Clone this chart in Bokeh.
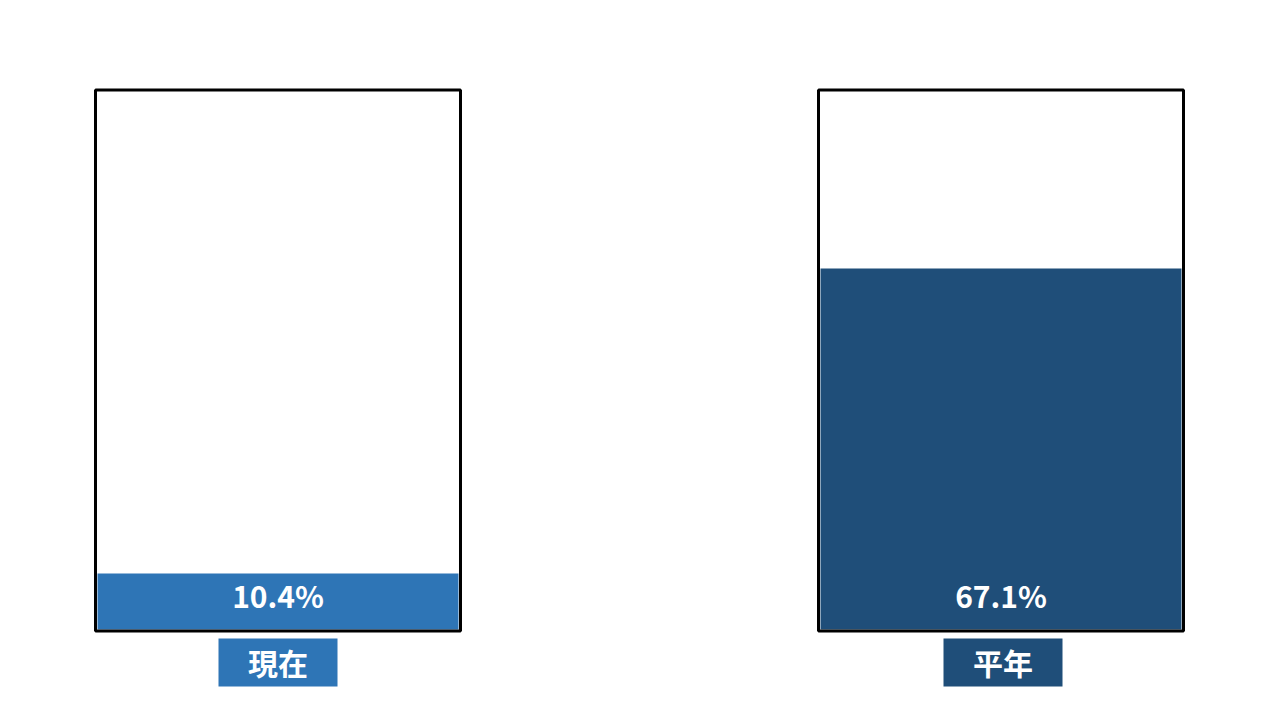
from bokeh.plotting import figure
from bokeh.models import Range1d, ColumnDataSource
from bokeh.core.properties import value
from bokeh.embed import file_html
from bokeh.resources import INLINE

# ---- data ----
categories = ["現在", "平年"]
values = [10.4, 67.1]
value_labels = ["10.4%", "67.1%"]
colors = ["#2E75B6", "#1F4E79"]

# ---- layout (pixel-based x, percent-based y) ----
centers = [277.5, 1000.5]
label_centers = [277.5, 1002.5]
W, H = 1264, 704
px_per_unit = 5.38
origin = 0  # screen offset of figure
y_top = (629 - origin) / px_per_unit
y_bot = -(origin + H - 629) / px_per_unit

p = figure(width=W, height=H, output_backend="svg", toolbar_location=None,
           x_range=Range1d(origin, origin + W), y_range=Range1d(y_bot, y_top),
           min_border=0, outline_line_color=None)
p.axis.visible = False
p.grid.visible = False
p.background_fill_color = "white"
p.border_fill_color = "white"

src = ColumnDataSource(dict(
    x=centers, lx=label_centers, cat=categories, val=values,
    lab=value_labels, color=colors, half=[v / 2 for v in values],
))

# filled level bars
p.rect(x="x", y="half", width=361, height="val", source=src,
       fill_color="color", line_color=None)

# outline boxes (0..100 %)
pad = 1.5 / px_per_unit
p.rect(x="x", y=50, width=365, height=100 + 2 * pad, source=src,
       fill_color=None, line_color="black", line_width=3)

# percentage labels
p.text(x="x", y=(629 - 594) / px_per_unit, text="lab", source=src,
       text_color="white", text_font=value("Noto Sans CJK JP"),
       text_font_style="bold", text_font_size="30px",
       text_align="center", text_baseline="middle")

# category label boxes
lab_top = -(638 - 629) / px_per_unit
lab_bot = -(686 - 629) / px_per_unit
p.rect(x="lx", y=(lab_top + lab_bot) / 2, width=119, height=lab_top - lab_bot,
       source=src, fill_color="color", line_color=None)
p.text(x="lx", y=(lab_top + lab_bot) / 2 + 1 / px_per_unit, text="cat",
       source=src, text_color="white", text_font=value("Noto Sans CJK JP"),
       text_font_style="bold", text_font_size="30px",
       text_align="center", text_baseline="middle")

open("out.html", "w").write(file_html(p, INLINE))
